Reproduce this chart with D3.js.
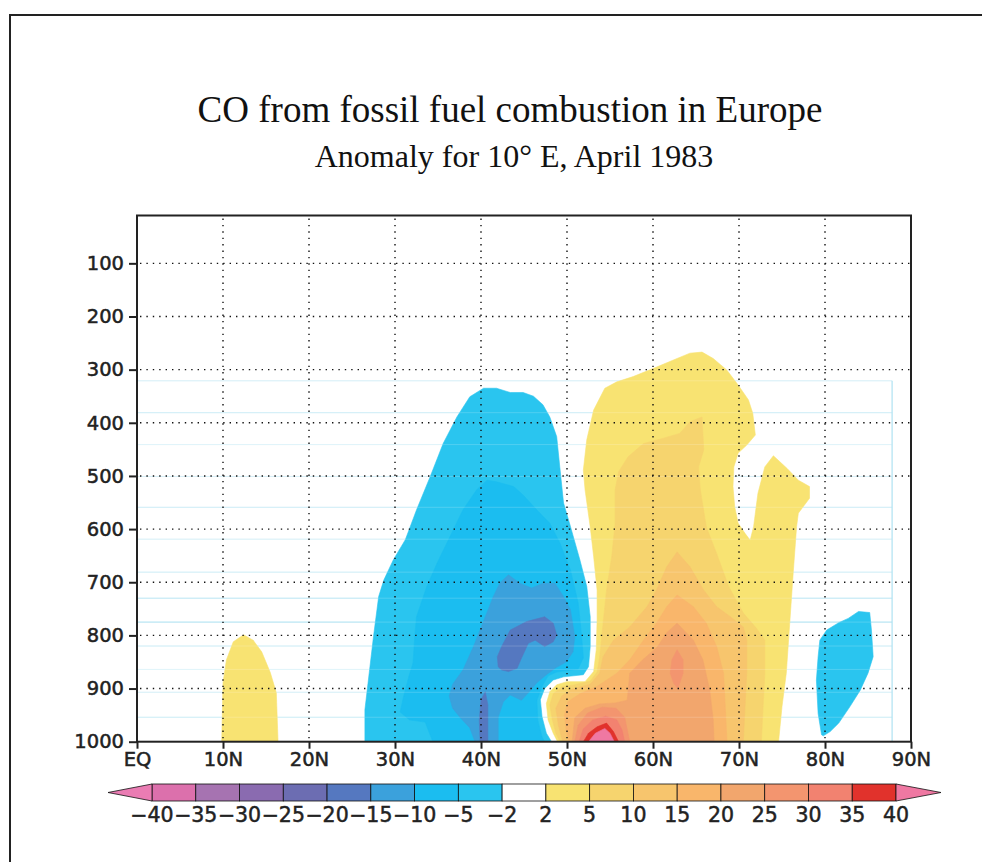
<!DOCTYPE html>
<html><head><meta charset="utf-8">
<script src="https://cdn.jsdelivr.net/npm/d3@7"></script>
<style>html,body{margin:0;padding:0;background:#fff;overflow:hidden}</style>
</head><body>
<svg id="c" width="982" height="862"></svg>
<script>
// ---------- data ----------
const titleText = "CO from fossil fuel combustion in Europe";
const subtitleText = "Anomaly for 10\u00B0 E, April 1983";
const latTicks = [0,10,20,30,40,50,60,70,80,90];
const latLabels = ["EQ","10N","20N","30N","40N","50N","60N","70N","80N","90N"];
const pTicks = [100,200,300,400,500,600,700,800,900,1000];
const levels = [-40,-35,-30,-25,-20,-15,-10,-5,-2,2,5,10,15,20,25,30,35,40];
const levelLabels = ["\u221240","\u221235","\u221230","\u221225","\u221220","\u221215","\u221210","\u22125","\u22122","2","5","10","15","20","25","30","35","40"];
const bandColors = ["#ea7cb3","#dc70ac","#a673b1","#8a6bb0","#6c6db2","#5578c0","#3ba1dc","#1bbdf0","#2ac5ef","#ffffff",
                    "#f8e372","#f6d46e","#f7c56d","#f9b66b","#f2a66d","#f3956f","#f28270","#e1322c","#ef78a2"];
// model level seams (hPa) visible as faint lines, and east edge of model grid
const modelLevels = [321,381,441,501,559,619,681,730,775,820,864,907,954];
const modelLevelTone = [0.5,0.6,0.4,0.5,0.6,0.5,0.6,0.8,1.0,0.6,0.4,0.5,0.6];
const gridEdgeLat = 87.8;

// contour regions, [latitude, pressure hPa]; value = contour level enclosing the region
const blueBig_m2 = [[26.5,1000],[26.5,940],[27.5,802],[28.1,727],[28.7,696],[29.8,658],[31.2,620],[32.5,564],[34.1,501],[35.6,439],[37.2,389],[38.7,351],[40.3,335],[41.8,335],[43.4,343],[44.9,343],[46.1,350],[47.2,366],[48.0,389],[48.8,426],[49.2,489],[49.6,551],[50.4,595],[51.5,658],[52.3,708],[52.7,765],[52.7,821],[52.5,859],[51.9,874],[49.6,878],[48.4,884],[47.4,900],[46.9,921],[47.1,953],[47.6,984],[48.2,1000]];
const blueBig_m5 = [[40.7,508],[41.8,511],[43.8,520],[44.9,536],[46.5,564],[48.0,589],[49.2,627],[50.4,677],[51.3,739],[51.7,801],[51.9,842],[51.3,863],[48.8,869],[47.8,876],[47.1,896],[46.5,922],[46.6,959],[47.1,991],[47.4,1000],[34.4,1000],[33.5,963],[31.7,959],[30.6,944],[31.0,915],[31.6,878],[32.1,852],[32.3,802],[32.5,765],[33.7,708],[34.9,664],[36.4,614],[37.9,564],[39.5,526]];
const blueBig_m10 = [[43.2,686],[44.5,702],[45.9,711],[47.2,702],[48.6,702],[49.6,727],[50.4,752],[50.9,802],[50.7,831],[49.9,850],[48.7,861],[47.6,874],[46.5,889],[45.5,908],[44.7,922],[43.4,912],[42.6,925],[42.0,954],[42.0,1000],[39.3,1000],[38.7,974],[37.6,955],[36.7,937],[36.3,914],[36.7,892],[37.9,865],[39.1,822],[40.2,777],[41.4,728],[42.2,701]];
const blueCore_m15 = [[42.0,859],[41.9,840],[42.4,821],[43.4,790],[45.3,774],[47.4,765],[48.4,777],[48.8,799],[48.4,812],[47.4,821],[46.3,809],[45.5,815],[44.7,843],[44.2,862],[43.2,868],[42.4,865]];
const blueStreak_m15 = [[39.9,1000],[39.8,959],[40.0,921],[40.5,906],[40.8,931],[40.8,1000]];
const blueArctic_m2 = [[79.6,987],[79.2,947],[79.0,884],[79.2,840],[79.4,809],[80.2,790],[81.6,776],[82.7,768],[83.9,755],[85.2,757],[85.4,790],[85.6,840],[85.0,871],[84.1,903],[82.9,934],[81.6,965],[80.6,981],[79.8,989]];
const yellowTrop_2 = [[9.85,1000],[10.0,889],[10.4,846],[11.2,812],[12.4,799],[13.5,809],[14.5,831],[15.5,870],[16.2,908],[16.4,1000]];
const yellowBig_2 = [[48.9,1000],[48.4,984],[47.8,959],[47.6,928],[48.0,906],[48.8,893],[50.0,887],[52.1,887],[53.1,868],[53.4,827],[53.5,771],[53.5,715],[53.1,652],[52.7,596],[52.1,526],[51.9,489],[52.3,432],[53.1,376],[54.4,335],[55.8,323],[57.7,313],[60.0,298],[62.8,279],[64.3,269],[65.7,267],[67.0,279],[68.6,301],[69.9,329],[71.1,357],[71.6,382],[71.9,423],[70.9,442],[69.9,457],[69.4,483],[69.3,520],[69.5,558],[69.9,589],[70.7,608],[71.3,621],[71.7,595],[72.2,533],[73.0,483],[74.0,462],[75.6,486],[76.9,508],[78.2,520],[78.2,542],[76.9,570],[76.7,595],[76.3,683],[75.9,777],[75.5,871],[75.0,934],[74.6,1000]];
const yellowBig_5 = [[49.2,1000],[48.7,984],[48.3,959],[48.0,931],[48.4,910],[49.4,897],[50.9,893],[52.7,886],[53.5,869],[53.8,841],[54.2,777],[54.6,715],[55.2,652],[55.6,589],[55.6,526],[56.0,492],[57.1,464],[58.9,439],[61.2,429],[63.1,420],[64.3,398],[65.7,389],[65.9,451],[65.3,483],[65.5,526],[66.2,596],[67.4,646],[68.8,708],[70.5,758],[72.0,786],[73.0,809],[73.0,871],[72.8,934],[72.6,1000]];
const orange_10 = [[49.5,1000],[49.0,969],[48.7,937],[49.4,914],[50.6,901],[52.7,892],[53.8,871],[54.2,840],[55.4,809],[57.3,784],[59.3,746],[60.4,715],[61.6,671],[62.8,643],[64.3,671],[65.9,715],[67.4,746],[69.0,765],[70.5,784],[70.9,809],[70.9,871],[70.7,934],[70.5,1000]];
const orange_15 = [[50.2,1000],[49.9,978],[49.7,950],[50.1,925],[51.5,910],[53.5,896],[55.8,871],[57.3,846],[58.9,809],[60.4,777],[61.6,746],[62.8,724],[64.7,746],[66.2,777],[67.4,821],[68.2,871],[68.4,934],[68.6,1000]];
const orange_20 = [[50.6,1000],[50.9,955],[52.1,937],[53.8,929],[55.6,927],[57.0,922],[57.3,871],[58.8,846],[60.5,822],[61.6,795],[62.8,777],[64.7,809],[65.8,846],[66.6,903],[67.0,959],[67.1,1000]];
const salmonSpot_25 = [[62.8,827],[62.2,846],[62.0,871],[62.4,890],[62.9,900],[63.5,871],[63.5,846]];
const salmonBase_25 = [[50.9,1000],[51.3,969],[52.4,946],[54.1,935],[55.7,937],[56.7,954],[57.3,1000]];
const salmonBase_30 = [[51.4,1000],[51.9,976],[53.0,959],[54.5,952],[55.8,959],[56.4,978],[56.7,1000]];
const redCore_35 = [[51.9,1000],[52.5,984],[53.5,972],[54.6,965],[55.4,981],[56.0,1000]];
const pinkCore_40 = [[52.5,1000],[53.3,984],[54.4,975],[55.0,984],[55.5,1000]];

const regions = [
  [-2, blueBig_m2], [-5, blueBig_m5], [-10, blueBig_m10], [-15, blueCore_m15], [-15, blueStreak_m15],
  [-2, blueArctic_m2], [2, yellowTrop_2], [2, yellowBig_2], [5, yellowBig_5], [10, orange_10],
  [15, orange_15], [20, orange_20], [25, salmonSpot_25], [25, salmonBase_25], [30, salmonBase_30],
  [35, redCore_35], [40, pinkCore_40]
];

// ---------- drawing ----------
const svg = d3.select("#c");
const font = "'DejaVu Sans', 'Liberation Sans', sans-serif";
const serif = "'Liberation Serif', 'Times New Roman', serif";

const x = d3.scaleLinear().domain([0, 90]).range([137, 911]);
const y = d3.scaleLinear().domain([10, 1000]).range([215.5, 741.7]);
const color = d3.scaleThreshold().domain(levels).range(bandColors);

// outer frame
svg.append("path").attr("d", "M10,870 L10,15 L990,15")
  .attr("fill", "none").attr("stroke", "#222").attr("stroke-width", 2);

svg.append("text").attr("x", 510).attr("y", 122).attr("text-anchor", "middle")
  .attr("font-family", serif).attr("font-size", 37).attr("fill", "#111").text(titleText);
svg.append("text").attr("x", 514).attr("y", 167).attr("text-anchor", "middle")
  .attr("font-family", serif).attr("font-size", 32).attr("fill", "#111").text(subtitleText);

svg.append("defs").append("clipPath").attr("id", "plotclip")
  .append("rect").attr("x", x(0)).attr("y", y(10)).attr("width", x(90) - x(0)).attr("height", y(1000) - y(10));

const plot = svg.append("g").attr("clip-path", "url(#plotclip)");

// faint model-level seams under fills
const seams = plot.append("g");
modelLevels.forEach((p, i) => {
  seams.append("line").attr("x1", x(0)).attr("x2", x(gridEdgeLat)).attr("y1", y(p)).attr("y2", y(p))
    .attr("stroke", "#9fdcef").attr("stroke-opacity", modelLevelTone[i]).attr("stroke-width", 1);
});
seams.append("line").attr("x1", x(gridEdgeLat)).attr("x2", x(gridEdgeLat)).attr("y1", y(modelLevels[0])).attr("y2", y(1000))
  .attr("stroke", "#9fdcef").attr("stroke-width", 1);

const area = d3.line().x(d => x(d[0])).y(d => y(d[1]));
regions.forEach(([v, pts]) => {
  const sample = v < 0 ? v - 0.1 : v + 0.1;
  plot.append("path").attr("d", area(pts) + "Z")
    .attr("fill", color(sample)).attr("stroke", color(sample)).attr("stroke-width", 0.6)
    .attr("stroke-linejoin", "round");
});

// seams faintly visible through fills
modelLevels.forEach((p, i) => {
  plot.append("line").attr("x1", x(0)).attr("x2", x(gridEdgeLat)).attr("y1", y(p)).attr("y2", y(p))
    .attr("stroke", "#ffffff").attr("stroke-opacity", 0.18).attr("stroke-width", 1);
});

// dotted grid
const grid = svg.append("g").attr("stroke", "#111").attr("stroke-width", 1.4)
  .attr("stroke-dasharray", "1.4,5").attr("fill", "none");
latTicks.slice(1, -1).forEach(l => {
  grid.append("line").attr("x1", x(l)).attr("x2", x(l)).attr("y1", y(10) + 3).attr("y2", y(1000));
});
pTicks.slice(0, -1).forEach(p => {
  grid.append("line").attr("x1", x(0) + 3).attr("x2", x(90)).attr("y1", y(p)).attr("y2", y(p));
});

// plot frame
svg.append("rect").attr("x", x(0)).attr("y", y(10)).attr("width", x(90) - x(0)).attr("height", y(1000) - y(10))
  .attr("fill", "none").attr("stroke", "#222").attr("stroke-width", 2);

// axes
const xAxis = d3.axisBottom(x).tickValues(latTicks).tickFormat((d, i) => latLabels[i]).tickSize(7).tickPadding(3);
const gx = svg.append("g").attr("transform", `translate(0,${y(1000)})`).call(xAxis);
gx.select(".domain").remove();
gx.selectAll("line").attr("stroke", "#222").attr("stroke-width", 2);
gx.selectAll("text").attr("font-family", font).attr("font-size", 19.5).attr("fill", "#222")
  .attr("stroke", "#222").attr("stroke-width", 0.5);

const yAxis = d3.axisLeft(y).tickValues(pTicks).tickFormat(d3.format("d")).tickSize(8).tickPadding(5);
const gy = svg.append("g").attr("transform", `translate(${x(0)},0)`).call(yAxis);
gy.select(".domain").remove();
gy.selectAll("line").attr("stroke", "#222").attr("stroke-width", 2);
gy.selectAll("text").attr("font-family", font).attr("font-size", 19.5).attr("fill", "#222")
  .attr("stroke", "#222").attr("stroke-width", 0.5);

// colour bar
const cbX = d3.scaleLinear().domain([0, levels.length - 1]).range([152, 896]);
const cbTop = 784, cbBot = 801, cbMid = (cbTop + cbBot) / 2;
const cb = svg.append("g");
for (let i = 0; i < levels.length - 1; i++) {
  cb.append("rect").attr("x", cbX(i)).attr("y", cbTop).attr("width", cbX(i + 1) - cbX(i)).attr("height", cbBot - cbTop)
    .attr("fill", bandColors[i + 1]).attr("stroke", "#111").attr("stroke-width", 0.8);
}
cb.append("path").attr("d", `M${cbX(0)},${cbTop} L${cbX(0) - 44},${cbMid} L${cbX(0)},${cbBot} Z`)
  .attr("fill", bandColors[0]).attr("stroke", "#111").attr("stroke-width", 0.8);
const last = levels.length - 1;
cb.append("path").attr("d", `M${cbX(last)},${cbTop} L${cbX(last) + 45},${cbMid} L${cbX(last)},${cbBot} Z`)
  .attr("fill", bandColors[bandColors.length - 1]).attr("stroke", "#111").attr("stroke-width", 0.8);
levels.forEach((v, i) => {
  cb.append("text").attr("x", cbX(i)).attr("y", 822).attr("text-anchor", "middle")
    .attr("font-family", font).attr("font-size", 20.5).attr("fill", "#222")
    .attr("stroke", "#222").attr("stroke-width", 0.5).text(levelLabels[i]);
});
</script>
</body></html>
